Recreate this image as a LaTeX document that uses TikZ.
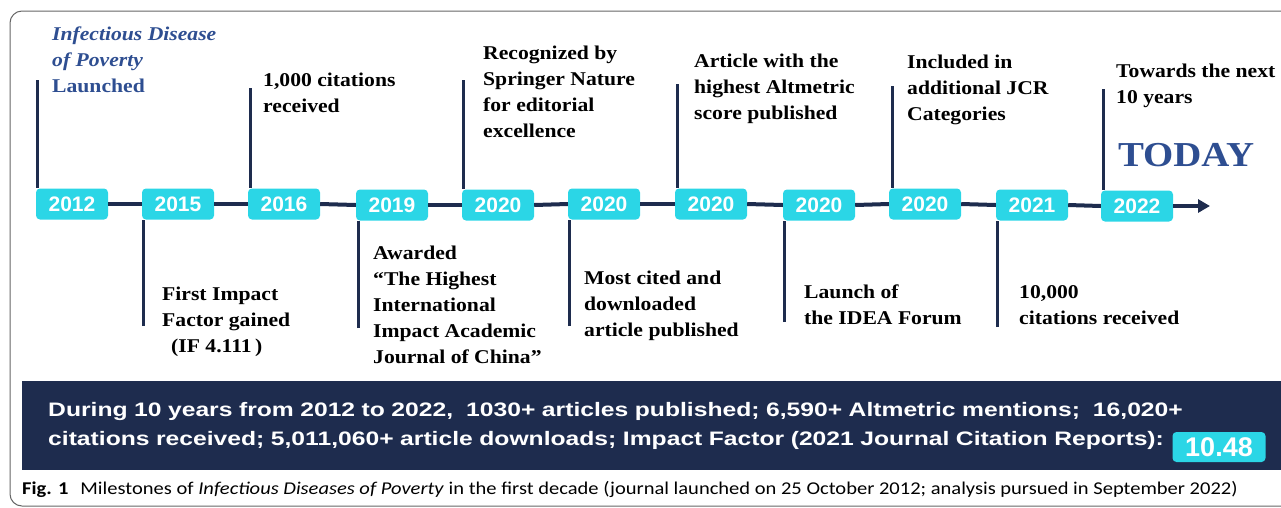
\documentclass[tikz,border=0pt]{standalone}
\usepackage{fontspec}
\setmainfont{Liberation Serif}
\setsansfont{Liberation Sans}
\newfontfamily\labelfont{Liberation Serif}[FakeStretch=1.11]
\newfontfamily\bannerfont{Liberation Sans}[FakeStretch=1.265]
\newfontfamily\capfont{Carlito}[FakeStretch=1.14]
\usepackage{tikz}
\usetikzlibrary{positioning, arrows.meta}

\definecolor{navy}{RGB}{30,44,78}
\definecolor{cyanbox}{RGB}{43,214,230}
\definecolor{jblue}{RGB}{46,78,145}

\begin{document}
\begin{tikzpicture}[x=1pt, y=-1pt,
  year node/.style={rectangle, rounded corners=4pt, fill=cyanbox, text=white,
    minimum width=72pt, minimum height=31pt, inner sep=0pt,
    font=\sffamily\bfseries\fontsize{21}{21}\selectfont},
  label node/.style={anchor=north west, inner sep=0pt, align=left,
    font=\labelfont\bfseries\fontsize{19.5}{26}\selectfont},
  banner/.style={anchor=north west, fill=navy, text=white, align=left,
    minimum width=1270pt, minimum height=89pt, text width=1220pt, inner xsep=26pt,
    font=\bannerfont\bfseries\fontsize{19.5}{29}\selectfont},
  stem/.style={navy, line width=3pt},
  axis/.style={navy, line width=4pt}]

\useasboundingbox (0,0) rectangle (1281,507);
\draw[black!60, line width=1pt, rounded corners=12pt] (10,11) rectangle (1300,506);

% years on the time axis
\node[year node] (y2012) at (72,204) {2012};
\node[year node] (y2015) at (178,204) {2015};
\node[year node] (y2016) at (284,204) {2016};
\node[year node] (y2019) at (392,205) {2019};
\node[year node] (y2020a) at (498,205) {2020};
\node[year node] (y2020b) at (604,204) {2020};
\node[year node] (y2020c) at (711,204) {2020};
\node[year node] (y2020d) at (819,205) {2020};
\node[year node] (y2020e) at (925,204) {2020};
\node[year node] (y2021) at (1032,205) {2021};
\node[year node] (y2022) at (1137,206) {2022};
\coordinate (tip) at (1210,203);

\foreach \a/\b in {y2012/y2015, y2015/y2016, y2016/y2019, y2019/y2020a, y2020a/y2020b,
  y2020b/y2020c, y2020c/y2020d, y2020d/y2020e, y2020e/y2021, y2021/y2022}
  \draw[axis] (\a.east) -- (\b.west);
\draw[axis, -{Triangle[length=12pt, width=13pt]}] (y2022.east) -- (tip |- y2022);

% stems above and below
\foreach \n/\x/\t in {y2012/37/80, y2016/250/88, y2020a/463/80, y2020c/677/84,
  y2020e/892/86, y2022/1103/89}{
  \coordinate (s-\n) at (\x,\t);
  \draw[stem] (s-\n) -- (s-\n |- \n.north);
}
\foreach \n/\x/\t in {y2015/143/326, y2019/358/328, y2020b/569/326, y2020d/784/322,
  y2021/997/327}{
  \coordinate (s-\n) at (\x,\t);
  \draw[stem] (s-\n) -- (s-\n |- \n.south);
}

\node[label node, text=jblue] (l2012) at (52,27) {\textit{Infectious Disease}\\\textit{of Poverty}\\Launched};
\node[label node] (l2016) at (263,73) {1,000 citations\\received};
\node[label node] (l2020a) at (483,46) {Recognized by\\Springer Nature\\for editorial\\excellence};
\node[label node] (l2020c) at (694,54) {Article with the\\highest Altmetric\\score published};
\node[label node] (l2020e) at (907,55) {Included in\\additional JCR\\Categories};
\node[label node] (l2022) at (1116,64) {Towards the next\\10 years};
\node[font=\labelfont\bfseries\fontsize{35}{35}\selectfont, text=jblue] (today) at (1186,155) {TODAY};

\node[label node] (l2015) at (162,287) {First Impact\\Factor gained\\\hspace{9pt}(IF 4.111\,)};
\node[label node] (l2019) at (373,246) {Awarded\\“The Highest\\International\\Impact Academic\\Journal of China”};
\node[label node] (l2020b) at (584,271) {Most cited and\\downloaded\\article published};
\node[label node] (l2020d) at (804,285) {Launch of\\the IDEA Forum};
\node[label node] (l2021) at (1019,285) {10,000\\citations received};

% summary
\node[banner] (stats) at (22,381) {During 10 years from 2012 to 2022,\ \ 1030+ articles published; 6,590+ Altmetric mentions;\ \ 16,020+\\citations received; 5,011,060+ article downloads; Impact Factor (2021 Journal Citation Reports):};
\node[year node, minimum width=93pt, minimum height=30pt,
  font=\sffamily\bfseries\fontsize{27}{27}\selectfont] (impact) at (1219,447) {10.48};

\node[anchor=west, inner sep=0pt, font=\capfont\fontsize{18}{18}\selectfont] (caption) at (22,489)
  {\textbf{Fig. 1}\hspace{12pt}Milestones of \textit{Infectious Diseases of Poverty} in the first decade (journal launched on 25 October 2012; analysis pursued in September 2022)};

\end{tikzpicture}
\end{document}
